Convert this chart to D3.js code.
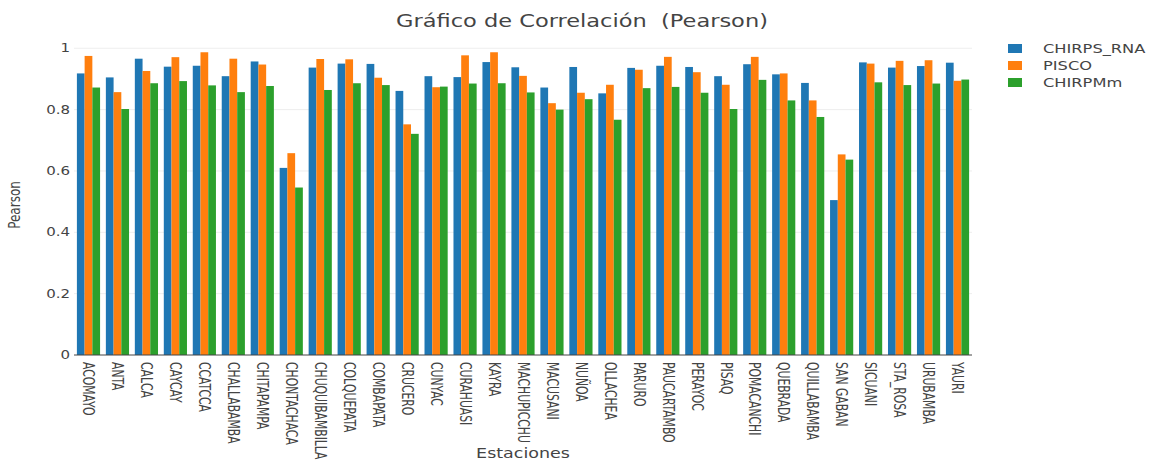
<!DOCTYPE html>
<html>
<head>
<meta charset="utf-8">
<script src="https://cdn.jsdelivr.net/npm/d3@7"></script>
<style>
  html, body { margin: 0; padding: 0; background: #fff; }
  svg text { fill: #444; }
</style>
</head>
<body>
<svg id="chart" width="1153" height="462"></svg>
<script>
// Stations (x categories)
const estaciones = ["ACOMAYO","ANTA","CALCA","CAYCAY","CCATCCA","CHALLABAMBA","CHITAPAMPA","CHONTACHACA",
  "CHUQUIBAMBILLA","COLQUEPATA","COMBAPATA","CRUCERO","CUNYAC","CURAHUASI","KAYRA","MACHUPICCHU",
  "MACUSANI","NUÑOA","OLLACHEA","PARURO","PAUCARTAMBO","PERAYOC","PISAQ","POMACANCHI","QUEBRADA",
  "QUILLABAMBA","SAN GABAN","SICUANI","STA_ROSA","URUBAMBA","YAURI"];

// Pearson correlation per station for each product
const chirpsRna = [0.918,0.905,0.966,0.940,0.943,0.909,0.957,0.610,0.937,0.950,0.949,0.861,0.909,0.906,0.955,
  0.938,0.872,0.939,0.853,0.936,0.943,0.939,0.909,0.948,0.915,0.887,0.505,0.954,0.937,0.942,0.953];
const pisco = [0.975,0.857,0.926,0.971,0.987,0.966,0.947,0.658,0.965,0.964,0.904,0.752,0.873,0.977,0.987,
  0.910,0.821,0.855,0.881,0.930,0.972,0.922,0.881,0.972,0.918,0.830,0.654,0.950,0.959,0.961,0.894];
const chirpMm = [0.872,0.802,0.886,0.893,0.879,0.857,0.877,0.546,0.864,0.886,0.880,0.721,0.875,0.885,0.886,
  0.856,0.800,0.834,0.767,0.870,0.874,0.855,0.802,0.897,0.830,0.776,0.637,0.889,0.880,0.885,0.898];

const seriesNames = ["CHIRPS_RNA","PISCO","CHIRPMm"];
const seriesValues = [chirpsRna, pisco, chirpMm];
const seriesColors = ["#1f77b4","#ff7f0e","#2ca02c"];
const yTicks = [0, 0.2, 0.4, 0.6, 0.8, 1];

const svg = d3.select("#chart");
const font = "'DejaVu Sans', Verdana, sans-serif";
const sx = 1.25; // horizontal text stretch

const plot = { left: 74, right: 972, top: 36, bottom: 355 };

const x = d3.scaleBand().domain(estaciones).range([plot.left, plot.right])
  .paddingInner(0.2).paddingOuter(0.1);
const xs = d3.scaleBand().domain(seriesNames).range([0, x.bandwidth()]);
const y = d3.scaleLinear().domain([0, 1.04]).range([plot.bottom, plot.top]);

function label(parent, px, py, txt, size, anchor, extra) {
  const g = parent.append("g").attr("transform", `translate(${px},${py}) scale(${sx},1)` + (extra || ""));
  return g.append("text").text(txt)
    .attr("font-family", font).attr("font-size", size)
    .attr("text-anchor", anchor).style("white-space", "pre");
}

// Grid lines
svg.append("g").selectAll("line").data(yTicks.filter(d => d > 0)).join("line")
  .attr("x1", plot.left).attr("x2", plot.right)
  .attr("y1", d => y(d)).attr("y2", d => y(d))
  .attr("stroke", "#eee").attr("stroke-width", 1);

// Bars
const groups = svg.append("g").selectAll("g").data(estaciones).join("g")
  .attr("transform", d => `translate(${x(d)},0)`);
groups.selectAll("rect")
  .data((d, i) => seriesNames.map((s, k) => ({ s, v: seriesValues[k][i], c: seriesColors[k] })))
  .join("rect")
  .attr("x", d => xs(d.s)).attr("width", xs.bandwidth())
  .attr("y", d => y(d.v)).attr("height", d => y(0) - y(d.v))
  .attr("fill", d => d.c);

// Zero line
svg.append("line").attr("x1", plot.left).attr("x2", plot.right)
  .attr("y1", y(0)).attr("y2", y(0)).attr("stroke", "#444").attr("stroke-width", 1);

// Y tick labels
const yAxis = svg.append("g");
yTicks.forEach(t => {
  label(yAxis, 70, y(t) + 4, d3.format("~g")(t), 12, "end");
});

// X tick labels (rotated)
const xAxis = svg.append("g");
estaciones.forEach(e => {
  const cx = x(e) + x.bandwidth() / 2;
  label(xAxis, cx, 362, e, 12, "start", " rotate(90)")
    .attr("font-family", "'DejaVu Sans Condensed', 'Liberation Sans Narrow', sans-serif")
    .attr("dy", "0.35em");
});

// Axis titles
label(svg, 523, 458, "Estaciones", 14, "middle");
label(svg, 20, 205, "Pearson", 12, "middle", " rotate(-90)");

// Chart title
label(svg, 582, 27, "Gráfico de Correlación  (Pearson)", 18, "middle");

// Legend
const legend = svg.append("g");
seriesNames.forEach((s, k) => {
  const ly = 44 + k * 17;
  legend.append("rect").attr("x", 1008).attr("y", ly).attr("width", 14).attr("height", 9)
    .attr("fill", seriesColors[k]);
  label(legend, 1043, ly + 9, s, 13, "start");
});
</script>
</body>
</html>
